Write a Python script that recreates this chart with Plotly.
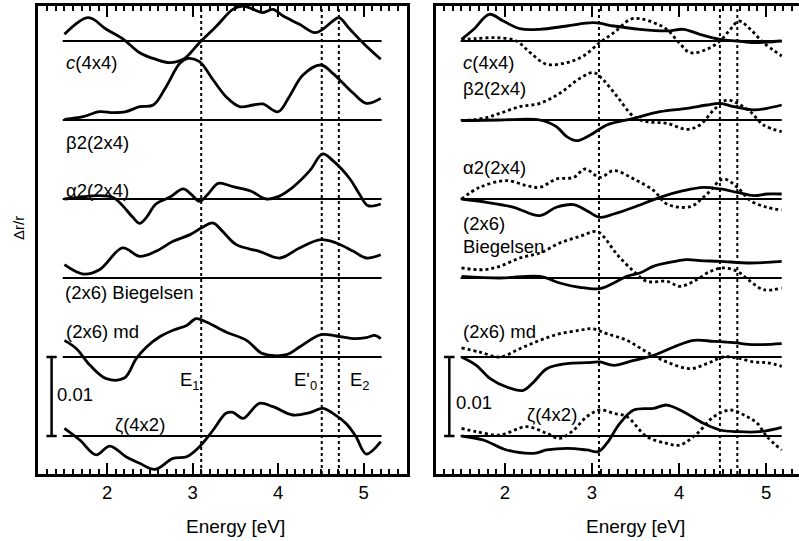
import plotly.graph_objects as go

# ---------------- data (Δr/r in units of 1e-3, relative to each baseline) ----------------
SCALE = 1e-3
SPACING = 0.01

names = ["c(4x4)", "β2(2x4)", "α2(2x4)", "(2x6) Biegelsen", "(2x6) md", "ζ(4x2)"]
offsets = [5, 4, 3, 2, 1, 0]  # in units of SPACING

# Left panel (solid curves)
L_c44_x = [1.50, 1.78, 1.99, 2.19, 2.38, 2.57, 2.73, 2.89, 3.08, 3.28, 3.47, 3.59, 3.71, 3.82, 3.94, 4.06, 4.25, 4.43, 4.52, 4.64, 4.71, 4.84, 4.99, 5.20]
L_c44_y = [0.84, 2.95, 1.48, 0.21, -1.48, -2.32, -2.74, -2.32, -0.21, 1.90, 4.00, 4.43, 4.00, 3.59, 4.00, 3.16, 2.11, 1.05, 1.48, 2.53, 2.95, 1.48, -0.21, -2.32]

L_b2_x = [1.50, 1.72, 1.91, 2.07, 2.22, 2.38, 2.54, 2.69, 2.85, 2.95, 3.08, 3.24, 3.39, 3.55, 3.71, 3.82, 4.00, 4.13, 4.29, 4.50, 4.64, 4.76, 4.88, 5.03, 5.20]
L_b2_y = [0.08, 0.42, 1.05, 0.93, 1.05, 1.69, 1.90, 4.22, 7.17, 7.80, 7.38, 5.06, 2.95, 1.69, 1.90, 2.03, 1.05, 2.95, 5.70, 6.96, 5.90, 4.64, 3.38, 2.11, 2.74]

L_a2_x = [1.50, 1.68, 1.89, 2.07, 2.18, 2.30, 2.38, 2.46, 2.57, 2.73, 2.89, 2.98, 3.08, 3.18, 3.30, 3.47, 3.67, 3.86, 4.00, 4.17, 4.37, 4.52, 4.64, 4.84, 4.95, 5.05, 5.20]
L_a2_y = [0.00, 0.20, 0.42, 0.20, -0.84, -2.32, -3.08, -2.32, -0.63, 0.21, 1.27, 0.63, -0.30, 0.63, 1.98, 1.56, 1.05, 0.00, 0.30, 1.48, 3.59, 5.70, 4.85, 2.53, 0.63, -0.84, -0.63]

L_bieg_x = [1.50, 1.72, 1.91, 2.18, 2.38, 2.57, 2.77, 2.97, 3.10, 3.24, 3.35, 3.51, 3.78, 4.02, 4.25, 4.50, 4.68, 4.88, 5.03, 5.20]
L_bieg_y = [1.69, 0.50, 1.05, 3.80, 2.74, 3.38, 4.64, 5.49, 6.33, 6.96, 5.90, 4.22, 3.38, 2.53, 3.80, 4.85, 4.43, 3.38, 2.53, 2.95]

L_md_x = [1.50, 1.64, 1.80, 1.99, 2.20, 2.34, 2.46, 2.61, 2.77, 2.93, 3.04, 3.16, 3.39, 3.63, 3.82, 4.10, 4.25, 4.50, 4.68, 4.88, 5.03, 5.13, 5.20]
L_md_y = [2.10, 1.05, -1.05, -2.74, -2.66, -0.21, 1.27, 2.53, 3.38, 4.00, 4.85, 4.43, 3.16, 2.11, 0.42, 0.30, 1.27, 2.83, 2.66, 2.32, 2.45, 2.74, 2.32]

L_z_x = [1.50, 1.68, 1.87, 2.03, 2.22, 2.38, 2.56, 2.77, 2.93, 3.08, 3.24, 3.39, 3.47, 3.59, 3.78, 3.94, 4.17, 4.37, 4.52, 4.64, 4.80, 4.91, 5.03, 5.20]
L_z_y = [0.97, -0.51, -2.40, -1.27, -2.62, -3.46, -4.22, -2.83, -2.62, -1.35, 0.76, 2.87, 3.00, 2.24, 4.14, 3.71, 2.66, 2.95, 3.50, 2.87, 1.52, -0.08, -2.28, -0.72]

# Right panel: solid and dotted curves
R_c44_x = [1.50, 1.64, 1.82, 1.98, 2.17, 2.40, 2.71, 3.02, 3.25, 3.55, 3.86, 4.05, 4.24, 4.47, 4.67, 4.86, 5.01, 5.18]
R_c44_y = [0.20, 1.48, 3.38, 2.53, 1.56, 1.48, 1.90, 2.32, 1.90, 1.48, 1.27, 1.48, 0.84, 0.21, 0.00, -0.21, -0.13, 0.00]
R_c44d_x = [1.50, 1.67, 1.90, 2.13, 2.29, 2.48, 2.71, 2.90, 3.09, 3.25, 3.44, 3.55, 3.71, 3.86, 4.00, 4.13, 4.32, 4.47, 4.59, 4.69, 4.82, 4.97, 5.18]
R_c44d_y = [0.20, 0.30, 0.42, 0.00, -1.48, -2.95, -2.74, -1.90, -0.20, 1.05, 2.74, 2.83, 2.32, 1.48, -0.21, -1.48, -1.05, 0.00, 1.48, 2.53, 1.48, -0.21, -1.90]

R_b2_x = [1.50, 1.94, 2.40, 2.59, 2.71, 2.82, 2.98, 3.17, 3.48, 3.78, 4.09, 4.32, 4.47, 4.63, 4.86, 5.01, 5.18]
R_b2_y = [-0.08, 0.00, 0.00, -0.84, -2.11, -2.62, -1.90, -0.63, 0.21, 1.05, 1.48, 1.90, 2.11, 1.69, 1.27, 1.48, 1.90]
R_b2d_x = [1.50, 1.75, 1.94, 2.17, 2.40, 2.63, 2.86, 3.02, 3.13, 3.29, 3.48, 3.63, 3.86, 4.09, 4.24, 4.40, 4.55, 4.67, 4.82, 4.97, 5.18]
R_b2d_y = [-0.08, 0.21, 0.84, 1.69, 2.11, 3.38, 5.27, 5.99, 5.06, 2.95, 0.42, -0.21, -0.42, -1.18, -0.63, 1.27, 2.53, 2.11, 1.05, -0.63, -1.48]

R_a2_x = [1.50, 1.79, 2.10, 2.40, 2.59, 2.79, 2.94, 3.09, 3.25, 3.48, 3.78, 4.05, 4.28, 4.47, 4.67, 4.86, 5.01, 5.18]
R_a2_y = [0.00, -0.42, -1.05, -2.11, -1.05, -0.72, -1.48, -2.32, -1.90, -1.05, 0.21, 1.05, 1.48, 1.27, 0.84, 0.42, 0.63, 0.63]
R_a2d_x = [1.50, 1.71, 2.02, 2.25, 2.40, 2.59, 2.79, 2.92, 3.09, 3.25, 3.48, 3.71, 3.86, 4.13, 4.32, 4.51, 4.67, 4.82, 5.01, 5.18]
R_a2d_y = [0.00, 1.48, 2.32, 1.69, 1.48, 2.53, 2.74, 3.80, 2.74, 3.59, 2.53, 1.05, -0.63, -0.97, 0.63, 2.53, 1.48, -0.21, -1.05, -1.39]

R_bieg_x = [1.50, 1.94, 2.40, 2.63, 2.86, 3.09, 3.25, 3.40, 3.55, 3.71, 3.86, 4.09, 4.24, 4.47, 4.82, 5.18]
R_bieg_y = [0.21, 0.00, 0.20, -0.63, -1.18, -1.35, -0.63, 0.20, 0.63, 1.50, 1.90, 2.32, 2.20, 2.11, 1.90, 2.11]
R_biegd_x = [1.50, 1.75, 1.94, 2.17, 2.40, 2.63, 2.86, 3.05, 3.13, 3.29, 3.48, 3.63, 3.86, 4.01, 4.17, 4.36, 4.51, 4.67, 4.82, 4.97, 5.18]
R_biegd_y = [1.27, 1.05, 1.48, 2.53, 3.16, 4.43, 5.27, 5.90, 5.27, 2.95, 0.84, -0.42, -0.42, -1.05, -0.42, 0.84, 1.27, 0.84, -0.42, -1.48, -1.27]

R_md_x = [1.50, 1.67, 1.83, 2.02, 2.21, 2.33, 2.48, 2.71, 2.94, 3.09, 3.25, 3.48, 3.71, 3.94, 4.17, 4.40, 4.63, 4.86, 5.18]
R_md_y = [0.00, -1.05, -2.74, -3.80, -4.22, -3.16, -1.48, -0.84, -0.72, -0.63, -1.05, -0.42, 0.21, 1.27, 2.11, 1.98, 1.81, 1.56, 1.69]
R_mdd_x = [1.50, 1.71, 1.94, 2.17, 2.40, 2.63, 2.86, 3.00, 3.17, 3.40, 3.63, 3.86, 4.13, 4.32, 4.51, 4.67, 4.86, 5.01, 5.18]
R_mdd_y = [1.14, 0.63, 0.00, 1.05, 2.11, 2.95, 3.38, 3.59, 2.95, 2.11, 0.63, -0.63, -1.48, -0.84, 0.00, -0.13, -0.63, -0.72, -1.18]

R_z_x = [1.50, 1.75, 2.02, 2.33, 2.48, 2.71, 2.94, 3.07, 3.17, 3.32, 3.48, 3.71, 3.86, 4.05, 4.28, 4.47, 4.67, 4.93, 5.18]
R_z_y = [0.00, -0.51, -1.77, -2.19, -1.77, -1.56, -1.77, -1.98, -0.93, 1.60, 3.29, 3.50, 3.92, 3.08, 1.60, 0.76, 0.55, 0.55, 1.10]
R_zd_x = [1.50, 1.67, 1.94, 2.25, 2.48, 2.63, 2.79, 2.94, 3.09, 3.25, 3.40, 3.63, 3.86, 4.01, 4.21, 4.40, 4.59, 4.78, 4.90, 5.01, 5.18]
R_zd_y = [0.97, 0.55, 0.13, 1.18, 0.34, -0.30, 0.76, 2.45, 3.29, 2.87, 2.45, -0.08, -0.93, -1.14, 0.34, 2.45, 3.29, 2.45, 1.60, -0.08, -1.77]

# transition energies (dotted vertical markers)
E_left = [3.10, 4.51, 4.71]
E_right = [3.08, 4.47, 4.67]
E_labels = ["E<sub>1</sub>", "E'<sub>0</sub>", "E<sub>2</sub>"]

baseline_x_left = [1.48, 5.21]
baseline_x_right = [1.49, 5.18]

major_dtick = 1
minor_dtick = 0.1

# ---------------- figure ----------------
FONT = "Liberation Sans, Arial, sans-serif"
W, H = 799, 541
MT, MB = 6, 67
PLOT_H = H - MT - MB
FS = 18.5
fig = go.Figure()

left_curves = [(L_c44_x, L_c44_y), (L_b2_x, L_b2_y), (L_a2_x, L_a2_y),
               (L_bieg_x, L_bieg_y), (L_md_x, L_md_y), (L_z_x, L_z_y)]
right_solid = [(R_c44_x, R_c44_y), (R_b2_x, R_b2_y), (R_a2_x, R_a2_y),
               (R_bieg_x, R_bieg_y), (R_md_x, R_md_y), (R_z_x, R_z_y)]
right_dot = [(R_c44d_x, R_c44d_y), (R_b2d_x, R_b2d_y), (R_a2d_x, R_a2d_y),
             (R_biegd_x, R_biegd_y), (R_mdd_x, R_mdd_y), (R_zd_x, R_zd_y)]

def add_line(x, y, xa, ya, width, dash="solid", shape="spline"):
    fig.add_trace(go.Scatter(x=x, y=y, mode="lines", xaxis=xa, yaxis=ya,
                             line=dict(color="black", width=width, dash=dash, shape=shape),
                             showlegend=False, hoverinfo="skip"))

ymin, ymax = -0.00481, 0.05443

dom_left = [38 / W, 407 / W]
dom_right = [436 / W, 1.0]
rng_left = [1.191, 5.507]
rng_right = [1.207, 5.379]

# vertical dotted markers
for e in E_left:
    add_line([e, e], [ymin, ymax], "x", "y", 2, "dot", "linear")
for e in E_right:
    add_line([e, e], [ymin, ymax], "x2", "y2", 2, "dot", "linear")

for i, off in enumerate(offsets):
    base = off * SPACING
    add_line(baseline_x_left, [base, base], "x", "y", 2.2, "solid", "linear")
    add_line(baseline_x_right, [base, base], "x2", "y2", 2.2, "solid", "linear")
    lx, ly = left_curves[i]
    add_line(lx, [base + v * SCALE for v in ly], "x", "y", 2.8)
    sx, sy = right_solid[i]
    add_line(sx, [base + v * SCALE for v in sy], "x2", "y2", 2.8)
    dx, dy = right_dot[i]
    add_line(dx, [base + v * SCALE for v in dy], "x2", "y2", 2.8, "dot")

# scale bars (0.01)
def scale_bar(xc, xa, ya):
    hw = 0.06
    add_line([xc, xc, None, xc - hw, xc + hw, None, xc - hw, xc + hw],
             [0, SPACING, None, 0, 0, None, SPACING, SPACING], xa, ya, 2.5, "solid", "linear")

scale_bar(1.35, "x", "y")
scale_bar(1.36, "x2", "y2")

ann = []
def label(text, x, y, xref, yref, size=FS, xanchor="left"):
    ann.append(dict(text=text, x=x, y=y, xref=xref, yref=yref, showarrow=False,
                    xanchor=xanchor, yanchor="middle", font=dict(size=size, color="black", family=FONT)))

def lv(v):
    return v * SCALE

# left panel labels
label("<i>c</i>(4x4)", 1.50, lv(47.3), "x", "y")
label("β2(2x4)", 1.50, lv(37.2), "x", "y")
label("α2(2x4)", 1.50, lv(31.1), "x", "y")
label("(2x6) Biegelsen", 1.48, lv(18.2), "x", "y")
label("(2x6) md", 1.49, lv(13.2), "x", "y")
label("ζ(4x2)", 2.07, lv(1.4), "x", "y")
label("0.01", 1.39, lv(5.2), "x", "y")
label(E_labels[0], 2.83, lv(7.0), "x", "y")
label(E_labels[1], 4.16, lv(7.0), "x", "y")
label(E_labels[2], 4.82, lv(7.0), "x", "y")

# right panel labels
label("<i>c</i>(4x4)", 1.50, lv(47.3), "x2", "y2")
label("β2(2x4)", 1.50, lv(44.05), "x2", "y2")
label("α2(2x4)", 1.50, lv(34.05), "x2", "y2")
label("(2x6)", 1.50, lv(26.9), "x2", "y2")
label("Biegelsen", 1.50, lv(24.0), "x2", "y2")
label("(2x6) md", 1.49, lv(13.2), "x2", "y2")
label("ζ(4x2)", 2.23, lv(2.66), "x2", "y2")
label("0.01", 1.41, lv(4.2), "x2", "y2")

# axis titles
label("Energy [eV]", 235 / W, -0.1132, "paper", "paper", 19, "center")
label("Energy [eV]", 635 / W, -0.1132, "paper", "paper", 19, "center")
ann.append(dict(text="Δr/r", x=18 / W, y=(474 - 228) / PLOT_H, xref="paper", yref="paper",
                showarrow=False, textangle=-90, xanchor="center", yanchor="middle",
                font=dict(size=15, color="black", family=FONT)))

def xaxis_cfg(dom, rng, anchor):
    return dict(domain=dom, range=rng, anchor=anchor,
                showline=True, linecolor="black", linewidth=3, mirror="allticks",
                ticks="inside", ticklen=11, tickwidth=2, tickcolor="black", dtick=major_dtick,
                showgrid=False, zeroline=False,
                tickfont=dict(size=FS, color="black", family=FONT),
                minor=dict(dtick=minor_dtick, ticks="inside", ticklen=5, tickwidth=1.5,
                           tickcolor="black"))

fig.update_layout(
    width=W, height=H, margin=dict(l=0, r=0, t=MT, b=MB),
    paper_bgcolor="white", plot_bgcolor="white",
    font=dict(family=FONT, color="black"),
    xaxis=xaxis_cfg(dom_left, rng_left, "y"),
    yaxis=dict(anchor="x", domain=[0, 1], range=[ymin, ymax], showline=True, linecolor="black",
               linewidth=3, mirror=True, showticklabels=False, showgrid=False, zeroline=False),
    xaxis2=xaxis_cfg(dom_right, rng_right, "y2"),
    yaxis2=dict(anchor="x2", domain=[0, 1], range=[ymin, ymax], showline=True, linecolor="black",
                linewidth=3, mirror=False, showticklabels=False, showgrid=False, zeroline=False),
    annotations=ann,
)

fig.write_html("out.html", config={"displayModeBar": False},
               post_script="document.body.style.margin='0px';document.body.style.padding='0px';")
